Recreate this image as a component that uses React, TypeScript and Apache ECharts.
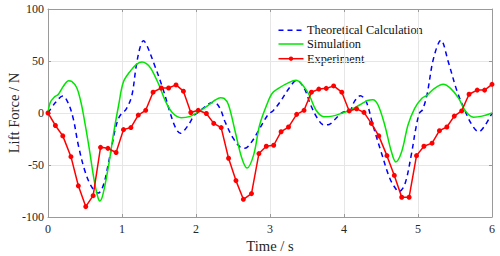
import React, { useEffect, useRef } from "react";
import * as echarts from "echarts";

const xTicks = [0, 1, 2, 3, 4, 5, 6];
const yTicks = [-100, -50, 0, 50, 100];

const theoryTime = [0, 0.1, 0.2, 0.27, 0.34, 0.41, 0.5, 0.59, 0.68, 0.75, 0.82, 0.865, 0.91, 0.955, 1.0, 1.05, 1.13, 1.19, 1.24, 1.29, 1.33, 1.44, 1.55, 1.66, 1.73, 1.79, 1.85, 1.91, 1.98, 2.04, 2.12, 2.22, 2.28, 2.34, 2.39, 2.5, 2.6, 2.66, 2.75, 2.86, 2.98, 3.04, 3.14, 3.26, 3.36, 3.46, 3.55, 3.64, 3.73, 3.8, 3.87, 3.98, 4.08, 4.14, 4.22, 4.3, 4.39, 4.5, 4.62, 4.71, 4.74, 4.82, 4.91, 4.97, 5.02, 5.06, 5.12, 5.21, 5.31, 5.41, 5.53, 5.64, 5.73, 5.82, 5.91, 6.0];
const theoryForce = [0, 10, 16.3, 10, -5, -31, -56, -71, -77, -69, -47, -31, -15, -5, 0, 3, 16, 44, 62, 69.5, 66, 46, 24, -2, -15, -19.5, -16, -10, -2, 1, 6, 10, 9, 2, -8, -24, -33, -34, -28, -15, -1, 2, 11, 24, 31.4, 24, 7.7, -5, -11.5, -11, -6.7, 0.5, 2, 11, 16.6, 11, -11.5, -37, -63, -74, -75.6, -69, -40, -15, 0, 3, 17, 52.5, 70, 49, 20.5, 1.3, -11.5, -18, -11.5, 0];

const simTime = [0, 0.03, 0.08, 0.14, 0.21, 0.28, 0.32, 0.39, 0.44, 0.48, 0.55, 0.62, 0.67, 0.7, 0.74, 0.82, 0.89, 0.955, 1.02, 1.12, 1.2, 1.27, 1.33, 1.39, 1.5, 1.59, 1.685, 1.8, 1.91, 2.02, 2.17, 2.26, 2.33, 2.38, 2.44, 2.53, 2.62, 2.69, 2.78, 2.86, 2.955, 3.03, 3.12, 3.26, 3.35, 3.44, 3.53, 3.62, 3.73, 3.84, 3.98, 4.08, 4.21, 4.32, 4.39, 4.46, 4.55, 4.64, 4.7, 4.78, 4.865, 4.955, 5.05, 5.12, 5.21, 5.34, 5.44, 5.55, 5.64, 5.75, 5.865, 6.0];
const simForce = [0, 10, 15, 18, 26, 31, 30.5, 24, 12, -2, -31, -63, -80, -84.5, -79, -50, -18, 7.7, 30, 41, 47, 49, 47.5, 43, 27, 11, 0, -4.5, -3.5, 0.6, 7.7, 12.5, 14.7, 14, 7.7, -18, -43.6, -53, -40, -11.5, 7.7, 19, 24, 29.5, 31.4, 27, 17.3, 2.9, -3.5, -3, 0, 2.6, 7.7, 12, 12.8, 7.7, -11.5, -37, -47, -37, -11.5, 4.5, 14, 17, 23, 27.6, 23.7, 14, 2, -4, -3, 0];

const expTime = [0, 0.1, 0.2, 0.31, 0.41, 0.51, 0.61, 0.71, 0.81, 0.92, 1.02, 1.12, 1.22, 1.32, 1.42, 1.53, 1.63, 1.73, 1.83, 1.93, 2.03, 2.14, 2.24, 2.34, 2.44, 2.54, 2.64, 2.75, 2.85, 2.95, 3.05, 3.15, 3.25, 3.36, 3.46, 3.56, 3.66, 3.76, 3.86, 3.97, 4.07, 4.17, 4.27, 4.37, 4.47, 4.58, 4.68, 4.78, 4.88, 4.98, 5.08, 5.19, 5.29, 5.39, 5.49, 5.59, 5.69, 5.8, 5.9, 6.0];
const expForce = [0, -12, -22, -42, -70, -90, -79.5, -33, -34, -38, -16, -14, -2, 2.6, 20, 24, 24, 27, 21, 0.5, 2.6, -0.5, -10, -14, -43.5, -65, -83, -77.5, -39, -32, -31, -18, -13.5, -1.3, 2.6, 20, 23, 23.7, 26, 20, 2, 4, 0.6, -10, -22, -41, -60, -81, -81, -41, -32, -29, -17, -13.5, -3, 2, 18, 22, 22, 27.6];

const seriesNames = ["Theoretical Calculation", "Simulation", "Experiment"];

const FONT = "Liberation Serif";
const FRAME = "#9a9a9a";
const TEXT = "#262626";
const BLUE = "#0000ff";
const GREEN = "#00e600";
const RED = "#ff0000";

const pairs = (xs: number[], ys: number[]) => xs.map((x, i) => [x, ys[i]]);

export default function App() {
  const ref = useRef<HTMLDivElement>(null);
  useEffect(() => {
    if (!ref.current) return;
    const chart = echarts.init(ref.current, undefined, { renderer: "svg" });
    const frameAxis = {
      axisLine: { show: true, onZero: false, lineStyle: { color: FRAME, width: 1 } },
      axisTick: { show: true, inside: true, length: 3, lineStyle: { color: FRAME } },
      axisLabel: { show: false },
      splitLine: { show: false },
    };
    const legendRows = [30.3, 44, 58.7];
    const legendColors = [BLUE, GREEN, RED];
    const legendGraphics: any[] = [];
    seriesNames.forEach((name, i) => {
      const y = legendRows[i];
      legendGraphics.push({
        type: "line",
        shape: { x1: 278.5, y1: y, x2: 303.5, y2: y },
        style: {
          stroke: legendColors[i],
          lineWidth: 1.5,
          lineDash: i === 0 ? [5, 4] : null,
        },
        silent: true,
      });
      if (i === 2) {
        legendGraphics.push({
          type: "circle",
          shape: { cx: 291, cy: y, r: 2.2 },
          style: { fill: RED },
          silent: true,
        });
      }
      legendGraphics.push({
        type: "text",
        x: 307,
        y: y,
        style: {
          text: name,
          fontFamily: FONT,
          fontSize: 12.3,
          fill: "#111",
          verticalAlign: "middle",
          align: "left",
        },
        silent: true,
      });
    });
    chart.setOption({
      animation: false,
      backgroundColor: "#ffffff",
      textStyle: { fontFamily: FONT },
      grid: { left: 48, right: 8, top: 9, bottom: 39, containLabel: false, outerBoundsMode: "none" },
      graphic: legendGraphics,
      xAxis: [
        {
          type: "value",
          min: 0,
          max: 6,
          interval: 1,
          name: "Time / s",
          nameLocation: "middle",
          nameGap: 21,
          nameMoveOverlap: false,
          nameTextStyle: { fontFamily: FONT, fontSize: 14.6, color: TEXT },
          axisLine: { show: true, onZero: false, lineStyle: { color: FRAME } },
          axisTick: { show: true, inside: true, length: 3, lineStyle: { color: FRAME } },
          axisLabel: {
            fontFamily: FONT,
            fontSize: 12,
            color: TEXT,
            margin: 6,
            formatter: (v: number) => (xTicks.includes(v) ? String(v) : ""),
          },
          splitLine: { show: true, lineStyle: { color: "#e6e6e6", width: 1 } },
        },
        { type: "value", min: 0, max: 6, interval: 1, position: "top", ...frameAxis },
      ],
      yAxis: [
        {
          type: "value",
          min: -100,
          max: 100,
          interval: 50,
          name: "Lift Force / N",
          nameLocation: "middle",
          nameGap: 27,
          nameMoveOverlap: false,
          nameTextStyle: { fontFamily: FONT, fontSize: 14.6, color: TEXT },
          axisLine: { show: true, onZero: false, lineStyle: { color: FRAME } },
          axisTick: { show: true, inside: true, length: 3, lineStyle: { color: FRAME } },
          axisLabel: {
            fontFamily: FONT,
            fontSize: 12,
            color: TEXT,
            margin: 4,
            formatter: (v: number) => (yTicks.includes(v) ? String(v) : ""),
          },
          splitLine: { show: true, lineStyle: { color: "#e6e6e6", width: 1 } },
        },
        { type: "value", min: -100, max: 100, interval: 50, position: "right", ...frameAxis },
      ],
      series: [
        {
          name: seriesNames[0],
          type: "line",
          data: pairs(theoryTime, theoryForce),
          smooth: 0.35,
          symbol: "none",
          lineStyle: { color: BLUE, width: 1.5, type: [5, 4] },
          itemStyle: { color: BLUE },
          z: 2,
        },
        {
          name: seriesNames[1],
          type: "line",
          data: pairs(simTime, simForce),
          smooth: 0.35,
          symbol: "none",
          lineStyle: { color: GREEN, width: 1.5 },
          itemStyle: { color: GREEN },
          z: 3,
        },
        {
          name: seriesNames[2],
          type: "line",
          data: pairs(expTime, expForce),
          smooth: false,
          symbol: "circle",
          symbolSize: 5,
          lineStyle: { color: RED, width: 1.5 },
          itemStyle: { color: RED },
          z: 4,
        },
      ],
    });
    return () => chart.dispose();
  }, []);
  return (
    <div
      ref={ref}
      style={{ position: "fixed", left: 0, top: 0, width: 500, height: 256, background: "#fff" }}
    />
  );
}
